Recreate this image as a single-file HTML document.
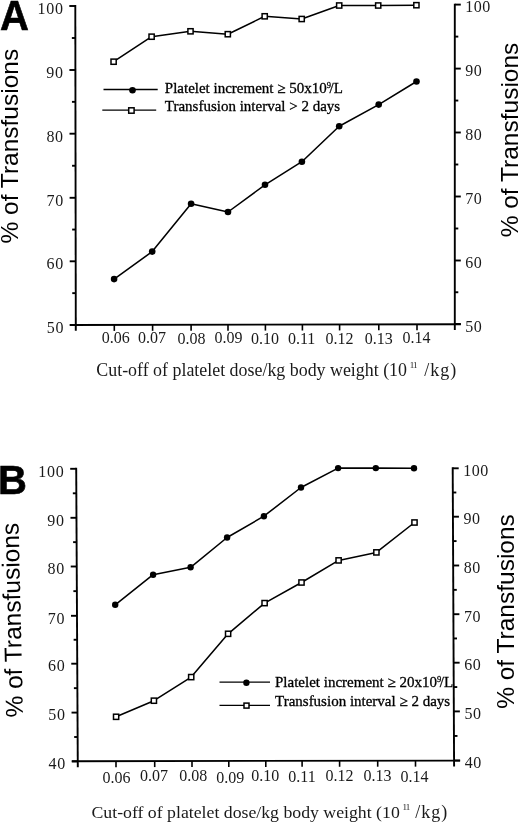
<!DOCTYPE html>
<html><head><meta charset="utf-8"><style>
html,body{margin:0;padding:0;background:#fff;width:520px;height:824px;overflow:hidden}
svg{display:block;will-change:transform}
text{fill:#1a1a1a}
</style></head><body>
<svg width="520" height="824" viewBox="0 0 520 824">
<rect width="520" height="824" fill="#fff"/>
<g opacity="0.995">
<line x1="75.3" y1="5.05" x2="75.8" y2="330.8" stroke="#000" stroke-width="1.9"/>
<line x1="454.8" y1="3.65" x2="454.8" y2="330" stroke="#000" stroke-width="1.9"/>
<line x1="69.8" y1="325" x2="460.8" y2="324.2" stroke="#000" stroke-width="1.9"/>
<line x1="69.3" y1="6" x2="75.3" y2="6" stroke="#000" stroke-width="1.9"/>
<line x1="71.85" y1="38" x2="75.35" y2="38" stroke="#000" stroke-width="1.9"/>
<line x1="69.4" y1="70" x2="75.4" y2="70" stroke="#000" stroke-width="1.9"/>
<line x1="71.95" y1="101.85" x2="75.45" y2="101.85" stroke="#000" stroke-width="1.9"/>
<line x1="69.5" y1="133.7" x2="75.5" y2="133.7" stroke="#000" stroke-width="1.9"/>
<line x1="72.05" y1="165.75" x2="75.55" y2="165.75" stroke="#000" stroke-width="1.9"/>
<line x1="69.6" y1="197.8" x2="75.6" y2="197.8" stroke="#000" stroke-width="1.9"/>
<line x1="72.15" y1="229.55" x2="75.65" y2="229.55" stroke="#000" stroke-width="1.9"/>
<line x1="69.7" y1="261.3" x2="75.7" y2="261.3" stroke="#000" stroke-width="1.9"/>
<line x1="72.25" y1="293.15" x2="75.75" y2="293.15" stroke="#000" stroke-width="1.9"/>
<line x1="69.8" y1="325" x2="75.8" y2="325" stroke="#000" stroke-width="1.9"/>
<line x1="454.8" y1="4.6" x2="460.8" y2="4.6" stroke="#000" stroke-width="1.9"/>
<line x1="454.8" y1="36.6" x2="458.3" y2="36.6" stroke="#000" stroke-width="1.9"/>
<line x1="454.8" y1="68.6" x2="460.8" y2="68.6" stroke="#000" stroke-width="1.9"/>
<line x1="454.8" y1="100.55" x2="458.3" y2="100.55" stroke="#000" stroke-width="1.9"/>
<line x1="454.8" y1="132.5" x2="460.8" y2="132.5" stroke="#000" stroke-width="1.9"/>
<line x1="454.8" y1="164.5" x2="458.3" y2="164.5" stroke="#000" stroke-width="1.9"/>
<line x1="454.8" y1="196.5" x2="460.8" y2="196.5" stroke="#000" stroke-width="1.9"/>
<line x1="454.8" y1="228.5" x2="458.3" y2="228.5" stroke="#000" stroke-width="1.9"/>
<line x1="454.8" y1="260.5" x2="460.8" y2="260.5" stroke="#000" stroke-width="1.9"/>
<line x1="454.8" y1="292.25" x2="458.3" y2="292.25" stroke="#000" stroke-width="1.9"/>
<line x1="454.8" y1="324" x2="460.8" y2="324" stroke="#000" stroke-width="1.9"/>
<line x1="114.3" y1="324.92" x2="114.3" y2="330.92" stroke="#000" stroke-width="1.6"/>
<line x1="152.6" y1="324.84" x2="152.6" y2="330.84" stroke="#000" stroke-width="1.6"/>
<line x1="191.1" y1="324.76" x2="191.1" y2="330.76" stroke="#000" stroke-width="1.6"/>
<line x1="228" y1="324.68" x2="228" y2="330.68" stroke="#000" stroke-width="1.6"/>
<line x1="265.4" y1="324.6" x2="265.4" y2="330.6" stroke="#000" stroke-width="1.6"/>
<line x1="302.4" y1="324.52" x2="302.4" y2="330.52" stroke="#000" stroke-width="1.6"/>
<line x1="339.6" y1="324.44" x2="339.6" y2="330.44" stroke="#000" stroke-width="1.6"/>
<line x1="378.8" y1="324.36" x2="378.8" y2="330.36" stroke="#000" stroke-width="1.6"/>
<line x1="417" y1="324.28" x2="417" y2="330.28" stroke="#000" stroke-width="1.6"/>
<polyline points="113.6,61.7 151.6,36.7 190.5,31.3 227.8,34.2 264.7,16.3 301.7,19 339.2,5.5 378.2,5.5 416.4,5.2" fill="none" stroke="#000" stroke-width="1.55" stroke-linejoin="round"/>
<polyline points="114.1,279.1 152.2,251.6 191.1,203.8 228,212 265,184.8 301.9,161.7 339.2,126.2 378.7,104.6 416.5,81.5" fill="none" stroke="#000" stroke-width="1.55" stroke-linejoin="round"/>
<rect x="111" y="59.1" width="5.2" height="5.2" fill="#fff" stroke="#000" stroke-width="1.5"/>
<rect x="149" y="34.1" width="5.2" height="5.2" fill="#fff" stroke="#000" stroke-width="1.5"/>
<rect x="187.9" y="28.7" width="5.2" height="5.2" fill="#fff" stroke="#000" stroke-width="1.5"/>
<rect x="225.2" y="31.6" width="5.2" height="5.2" fill="#fff" stroke="#000" stroke-width="1.5"/>
<rect x="262.1" y="13.7" width="5.2" height="5.2" fill="#fff" stroke="#000" stroke-width="1.5"/>
<rect x="299.1" y="16.4" width="5.2" height="5.2" fill="#fff" stroke="#000" stroke-width="1.5"/>
<rect x="336.6" y="2.9" width="5.2" height="5.2" fill="#fff" stroke="#000" stroke-width="1.5"/>
<rect x="375.6" y="2.9" width="5.2" height="5.2" fill="#fff" stroke="#000" stroke-width="1.5"/>
<rect x="413.8" y="2.6" width="5.2" height="5.2" fill="#fff" stroke="#000" stroke-width="1.5"/>
<circle cx="114.1" cy="279.1" r="3.3" fill="#000"/>
<circle cx="152.2" cy="251.6" r="3.3" fill="#000"/>
<circle cx="191.1" cy="203.8" r="3.3" fill="#000"/>
<circle cx="228" cy="212" r="3.3" fill="#000"/>
<circle cx="265" cy="184.8" r="3.3" fill="#000"/>
<circle cx="301.9" cy="161.7" r="3.3" fill="#000"/>
<circle cx="339.2" cy="126.2" r="3.3" fill="#000"/>
<circle cx="378.7" cy="104.6" r="3.3" fill="#000"/>
<circle cx="416.5" cy="81.5" r="3.3" fill="#000"/>
<text x="63.6" y="13.8" font-family='"Liberation Serif", serif' font-size="16" text-anchor="end" font-weight="normal" letter-spacing="0.7">100</text>
<text x="63.7" y="77.8" font-family='"Liberation Serif", serif' font-size="16" text-anchor="end" font-weight="normal" letter-spacing="0.7">90</text>
<text x="63.8" y="141.5" font-family='"Liberation Serif", serif' font-size="16" text-anchor="end" font-weight="normal" letter-spacing="0.7">80</text>
<text x="63.9" y="205.6" font-family='"Liberation Serif", serif' font-size="16" text-anchor="end" font-weight="normal" letter-spacing="0.7">70</text>
<text x="64" y="269.1" font-family='"Liberation Serif", serif' font-size="16" text-anchor="end" font-weight="normal" letter-spacing="0.7">60</text>
<text x="64.1" y="332.8" font-family='"Liberation Serif", serif' font-size="16" text-anchor="end" font-weight="normal" letter-spacing="0.7">50</text>
<text x="465.3" y="12.2" font-family='"Liberation Serif", serif' font-size="16" text-anchor="start" font-weight="normal" letter-spacing="0.5">100</text>
<text x="465.3" y="76.2" font-family='"Liberation Serif", serif' font-size="16" text-anchor="start" font-weight="normal" letter-spacing="0.5">90</text>
<text x="465.3" y="140.1" font-family='"Liberation Serif", serif' font-size="16" text-anchor="start" font-weight="normal" letter-spacing="0.5">80</text>
<text x="465.3" y="204.1" font-family='"Liberation Serif", serif' font-size="16" text-anchor="start" font-weight="normal" letter-spacing="0.5">70</text>
<text x="465.3" y="268.1" font-family='"Liberation Serif", serif' font-size="16" text-anchor="start" font-weight="normal" letter-spacing="0.5">60</text>
<text x="465.3" y="331.6" font-family='"Liberation Serif", serif' font-size="16" text-anchor="start" font-weight="normal" letter-spacing="0.5">50</text>
<text x="115.7" y="343.2" font-family='"Liberation Serif", serif' font-size="16" text-anchor="middle" font-weight="normal" >0.06</text>
<text x="152.1" y="343.2" font-family='"Liberation Serif", serif' font-size="16" text-anchor="middle" font-weight="normal" >0.07</text>
<text x="191.6" y="344.2" font-family='"Liberation Serif", serif' font-size="16" text-anchor="middle" font-weight="normal" >0.08</text>
<text x="228.5" y="343.2" font-family='"Liberation Serif", serif' font-size="16" text-anchor="middle" font-weight="normal" >0.09</text>
<text x="265" y="343.7" font-family='"Liberation Serif", serif' font-size="16" text-anchor="middle" font-weight="normal" >0.10</text>
<text x="301.6" y="343.7" font-family='"Liberation Serif", serif' font-size="16" text-anchor="middle" font-weight="normal" >0.11</text>
<text x="339.6" y="343.9" font-family='"Liberation Serif", serif' font-size="16" text-anchor="middle" font-weight="normal" >0.12</text>
<text x="378.8" y="344.2" font-family='"Liberation Serif", serif' font-size="16" text-anchor="middle" font-weight="normal" >0.13</text>
<text x="416.6" y="342.8" font-family='"Liberation Serif", serif' font-size="16" text-anchor="middle" font-weight="normal" >0.14</text>
<text x="96.3" y="375.7" font-family='"Liberation Serif", serif' font-size="17.9">Cut-off of platelet dose/kg body weight (10</text><text x="409.8" y="368" font-family='"Liberation Serif", serif' font-size="9" letter-spacing="-1">11</text><text x="424.3" y="375.7" font-family='"Liberation Serif", serif' font-size="18" letter-spacing="1">/kg)</text>
<text x="0" y="0" transform="translate(17.9,146.2) rotate(-90)" font-family='"Liberation Sans", sans-serif' font-size="24.5" text-anchor="middle" style="fill:#000">% of Transfusions</text>
<text x="0" y="0" transform="translate(518.1,140) rotate(-90)" font-family='"Liberation Sans", sans-serif' font-size="24.5" text-anchor="middle" style="fill:#000">% of Transfusions</text>
<text x="0" y="0" transform="translate(0,29.8) scale(1,1.06)" font-family='"Liberation Sans", sans-serif' font-size="40" font-weight="bold" style="fill:#000" stroke="#000" stroke-width="0.6">A</text>
<line x1="103.5" y1="89.5" x2="157.7" y2="89.5" stroke="#000" stroke-width="1.3"/>
<circle cx="132.5" cy="90.3" r="3.3" fill="#000"/>
<line x1="102.3" y1="110.1" x2="156.2" y2="110.1" stroke="#000" stroke-width="1.3"/>
<rect x="128.7" y="107.8" width="5.4" height="5.4" fill="#fff" stroke="#000" stroke-width="1.5"/>
<text x="164.8" y="93" font-family='"Liberation Serif", serif' font-size="15" style="fill:#000" stroke="#000" stroke-width="0.3">Platelet increment ≥ 50x10<tspan dy="-5.3" font-size="8.5">9</tspan><tspan dy="5.3" dx="-1.4">/L</tspan></text>
<text x="164.8" y="110.6" font-family='"Liberation Serif", serif' font-size="15" style="fill:#000" stroke="#000" stroke-width="0.3">Transfusion interval &gt; 2 days</text>
<line x1="76.2" y1="467.85" x2="77.8" y2="767.2" stroke="#000" stroke-width="1.9"/>
<line x1="452.7" y1="467.35" x2="454.1" y2="766.6" stroke="#000" stroke-width="1.9"/>
<line x1="71.8" y1="761.2" x2="460.1" y2="760.6" stroke="#000" stroke-width="1.9"/>
<line x1="70.2" y1="468.8" x2="76.2" y2="468.8" stroke="#000" stroke-width="1.9"/>
<line x1="72.83" y1="493.3" x2="76.33" y2="493.3" stroke="#000" stroke-width="1.9"/>
<line x1="70.47" y1="517.8" x2="76.47" y2="517.8" stroke="#000" stroke-width="1.9"/>
<line x1="73.1" y1="542.15" x2="76.6" y2="542.15" stroke="#000" stroke-width="1.9"/>
<line x1="70.73" y1="566.5" x2="76.73" y2="566.5" stroke="#000" stroke-width="1.9"/>
<line x1="73.37" y1="591.15" x2="76.87" y2="591.15" stroke="#000" stroke-width="1.9"/>
<line x1="71" y1="615.8" x2="77" y2="615.8" stroke="#000" stroke-width="1.9"/>
<line x1="73.63" y1="639.75" x2="77.13" y2="639.75" stroke="#000" stroke-width="1.9"/>
<line x1="71.27" y1="663.7" x2="77.27" y2="663.7" stroke="#000" stroke-width="1.9"/>
<line x1="73.9" y1="688.15" x2="77.4" y2="688.15" stroke="#000" stroke-width="1.9"/>
<line x1="71.53" y1="712.6" x2="77.53" y2="712.6" stroke="#000" stroke-width="1.9"/>
<line x1="74.17" y1="737" x2="77.67" y2="737" stroke="#000" stroke-width="1.9"/>
<line x1="71.8" y1="761.4" x2="77.8" y2="761.4" stroke="#000" stroke-width="1.9"/>
<line x1="452.7" y1="468.3" x2="458.7" y2="468.3" stroke="#000" stroke-width="1.9"/>
<line x1="452.82" y1="492.5" x2="456.32" y2="492.5" stroke="#000" stroke-width="1.9"/>
<line x1="452.93" y1="516.7" x2="458.93" y2="516.7" stroke="#000" stroke-width="1.9"/>
<line x1="453.05" y1="541.1" x2="456.55" y2="541.1" stroke="#000" stroke-width="1.9"/>
<line x1="453.17" y1="565.5" x2="459.17" y2="565.5" stroke="#000" stroke-width="1.9"/>
<line x1="453.28" y1="589.85" x2="456.78" y2="589.85" stroke="#000" stroke-width="1.9"/>
<line x1="453.4" y1="614.2" x2="459.4" y2="614.2" stroke="#000" stroke-width="1.9"/>
<line x1="453.52" y1="638.45" x2="457.02" y2="638.45" stroke="#000" stroke-width="1.9"/>
<line x1="453.63" y1="662.7" x2="459.63" y2="662.7" stroke="#000" stroke-width="1.9"/>
<line x1="453.75" y1="687.05" x2="457.25" y2="687.05" stroke="#000" stroke-width="1.9"/>
<line x1="453.87" y1="711.4" x2="459.87" y2="711.4" stroke="#000" stroke-width="1.9"/>
<line x1="453.98" y1="735.95" x2="457.48" y2="735.95" stroke="#000" stroke-width="1.9"/>
<line x1="454.1" y1="760.5" x2="460.1" y2="760.5" stroke="#000" stroke-width="1.9"/>
<line x1="116" y1="761.14" x2="116" y2="767.14" stroke="#000" stroke-width="1.6"/>
<line x1="154.7" y1="761.08" x2="154.7" y2="767.08" stroke="#000" stroke-width="1.6"/>
<line x1="192" y1="761.02" x2="192" y2="767.02" stroke="#000" stroke-width="1.6"/>
<line x1="228.8" y1="760.96" x2="228.8" y2="766.96" stroke="#000" stroke-width="1.6"/>
<line x1="265.8" y1="760.9" x2="265.8" y2="766.9" stroke="#000" stroke-width="1.6"/>
<line x1="302.1" y1="760.84" x2="302.1" y2="766.84" stroke="#000" stroke-width="1.6"/>
<line x1="339.6" y1="760.78" x2="339.6" y2="766.78" stroke="#000" stroke-width="1.6"/>
<line x1="377.7" y1="760.72" x2="377.7" y2="766.72" stroke="#000" stroke-width="1.6"/>
<line x1="415.5" y1="760.66" x2="415.5" y2="766.66" stroke="#000" stroke-width="1.6"/>
<polyline points="116.1,716.8 153.9,700.7 191.2,677.1 228.1,633.8 264.6,603.1 301.5,582.5 338.6,560.4 376.4,552.4 414.5,522.5" fill="none" stroke="#000" stroke-width="1.55" stroke-linejoin="round"/>
<polyline points="115.2,604.8 153.1,574.7 190.6,567.3 227.1,537.5 263.9,516.2 301,487.5 338.1,468.1 375.8,468.1 414,468.3" fill="none" stroke="#000" stroke-width="1.55" stroke-linejoin="round"/>
<rect x="113.5" y="714.2" width="5.2" height="5.2" fill="#fff" stroke="#000" stroke-width="1.5"/>
<rect x="151.3" y="698.1" width="5.2" height="5.2" fill="#fff" stroke="#000" stroke-width="1.5"/>
<rect x="188.6" y="674.5" width="5.2" height="5.2" fill="#fff" stroke="#000" stroke-width="1.5"/>
<rect x="225.5" y="631.2" width="5.2" height="5.2" fill="#fff" stroke="#000" stroke-width="1.5"/>
<rect x="262" y="600.5" width="5.2" height="5.2" fill="#fff" stroke="#000" stroke-width="1.5"/>
<rect x="298.9" y="579.9" width="5.2" height="5.2" fill="#fff" stroke="#000" stroke-width="1.5"/>
<rect x="336" y="557.8" width="5.2" height="5.2" fill="#fff" stroke="#000" stroke-width="1.5"/>
<rect x="373.8" y="549.8" width="5.2" height="5.2" fill="#fff" stroke="#000" stroke-width="1.5"/>
<rect x="411.9" y="519.9" width="5.2" height="5.2" fill="#fff" stroke="#000" stroke-width="1.5"/>
<circle cx="115.2" cy="604.8" r="3.2" fill="#000"/>
<circle cx="153.1" cy="574.7" r="3.2" fill="#000"/>
<circle cx="190.6" cy="567.3" r="3.2" fill="#000"/>
<circle cx="227.1" cy="537.5" r="3.2" fill="#000"/>
<circle cx="263.9" cy="516.2" r="3.2" fill="#000"/>
<circle cx="301" cy="487.5" r="3.2" fill="#000"/>
<circle cx="338.1" cy="468.1" r="3.2" fill="#000"/>
<circle cx="375.8" cy="468.1" r="3.2" fill="#000"/>
<circle cx="414" cy="468.3" r="3.2" fill="#000"/>
<text x="64.4" y="476.5" font-family='"Liberation Serif", serif' font-size="16" text-anchor="end" font-weight="normal" letter-spacing="0.7">100</text>
<text x="64.67" y="525.5" font-family='"Liberation Serif", serif' font-size="16" text-anchor="end" font-weight="normal" letter-spacing="0.7">90</text>
<text x="64.93" y="574.2" font-family='"Liberation Serif", serif' font-size="16" text-anchor="end" font-weight="normal" letter-spacing="0.7">80</text>
<text x="65.2" y="623.5" font-family='"Liberation Serif", serif' font-size="16" text-anchor="end" font-weight="normal" letter-spacing="0.7">70</text>
<text x="65.47" y="671.4" font-family='"Liberation Serif", serif' font-size="16" text-anchor="end" font-weight="normal" letter-spacing="0.7">60</text>
<text x="65.73" y="720.3" font-family='"Liberation Serif", serif' font-size="16" text-anchor="end" font-weight="normal" letter-spacing="0.7">50</text>
<text x="66" y="769.1" font-family='"Liberation Serif", serif' font-size="16" text-anchor="end" font-weight="normal" letter-spacing="0.7">40</text>
<text x="463.3" y="475.9" font-family='"Liberation Serif", serif' font-size="16" text-anchor="start" font-weight="normal" letter-spacing="0.5">100</text>
<text x="463.53" y="524.3" font-family='"Liberation Serif", serif' font-size="16" text-anchor="start" font-weight="normal" letter-spacing="0.5">90</text>
<text x="463.77" y="573.1" font-family='"Liberation Serif", serif' font-size="16" text-anchor="start" font-weight="normal" letter-spacing="0.5">80</text>
<text x="464" y="621.8" font-family='"Liberation Serif", serif' font-size="16" text-anchor="start" font-weight="normal" letter-spacing="0.5">70</text>
<text x="464.23" y="670.3" font-family='"Liberation Serif", serif' font-size="16" text-anchor="start" font-weight="normal" letter-spacing="0.5">60</text>
<text x="464.47" y="719" font-family='"Liberation Serif", serif' font-size="16" text-anchor="start" font-weight="normal" letter-spacing="0.5">50</text>
<text x="464.7" y="768.1" font-family='"Liberation Serif", serif' font-size="16" text-anchor="start" font-weight="normal" letter-spacing="0.5">40</text>
<text x="116.6" y="782.8" font-family='"Liberation Serif", serif' font-size="16" text-anchor="middle" font-weight="normal" >0.06</text>
<text x="154" y="781" font-family='"Liberation Serif", serif' font-size="16" text-anchor="middle" font-weight="normal" >0.07</text>
<text x="193.2" y="781" font-family='"Liberation Serif", serif' font-size="16" text-anchor="middle" font-weight="normal" >0.08</text>
<text x="230.2" y="782.8" font-family='"Liberation Serif", serif' font-size="16" text-anchor="middle" font-weight="normal" >0.09</text>
<text x="265.3" y="780.7" font-family='"Liberation Serif", serif' font-size="16" text-anchor="middle" font-weight="normal" >0.10</text>
<text x="302" y="781.9" font-family='"Liberation Serif", serif' font-size="16" text-anchor="middle" font-weight="normal" >0.11</text>
<text x="339.6" y="780.5" font-family='"Liberation Serif", serif' font-size="16" text-anchor="middle" font-weight="normal" >0.12</text>
<text x="377.6" y="780.5" font-family='"Liberation Serif", serif' font-size="16" text-anchor="middle" font-weight="normal" >0.13</text>
<text x="414.4" y="782.3" font-family='"Liberation Serif", serif' font-size="16" text-anchor="middle" font-weight="normal" >0.14</text>
<text x="91.5" y="817.9" font-family='"Liberation Serif", serif' font-size="17.75">Cut-off of platelet dose/kg body weight (10</text><text x="402.6" y="810" font-family='"Liberation Serif", serif' font-size="9" letter-spacing="-1">11</text><text x="415.2" y="817.9" font-family='"Liberation Serif", serif' font-size="18" letter-spacing="1">/kg)</text>
<text x="0" y="0" transform="translate(20.8,620) rotate(-91.33)" font-family='"Liberation Sans", sans-serif' font-size="24.5" text-anchor="middle" style="fill:#000">% of Transfusions</text>
<text x="0" y="0" transform="translate(514.2,611.5) rotate(-90)" font-family='"Liberation Sans", sans-serif' font-size="24.5" text-anchor="middle" style="fill:#000">% of Transfusions</text>
<text x="0" y="0" transform="translate(-2,494.2) scale(1,1.0)" font-family='"Liberation Sans", sans-serif' font-size="40" font-weight="bold" style="fill:#000" stroke="#000" stroke-width="0.6">B</text>
<line x1="219.5" y1="682.2" x2="270" y2="682.2" stroke="#000" stroke-width="1.3"/>
<circle cx="246.4" cy="682.7" r="3.2" fill="#000"/>
<line x1="219.5" y1="705.3" x2="270" y2="705.3" stroke="#000" stroke-width="1.3"/>
<rect x="244" y="703.1" width="5" height="5" fill="#fff" stroke="#000" stroke-width="1.5"/>
<text x="275" y="686.8" font-family='"Liberation Serif", serif' font-size="15" style="fill:#000" stroke="#000" stroke-width="0.3">Platelet increment ≥ 20x10<tspan dy="-5.3" font-size="8.5">9</tspan><tspan dy="5.3" dx="-1.4">/L</tspan></text>
<text x="275" y="705.6" font-family='"Liberation Serif", serif' font-size="15" style="fill:#000" stroke="#000" stroke-width="0.3">Transfusion interval ≥ 2 days</text>
</g>
</svg>
</body></html>
